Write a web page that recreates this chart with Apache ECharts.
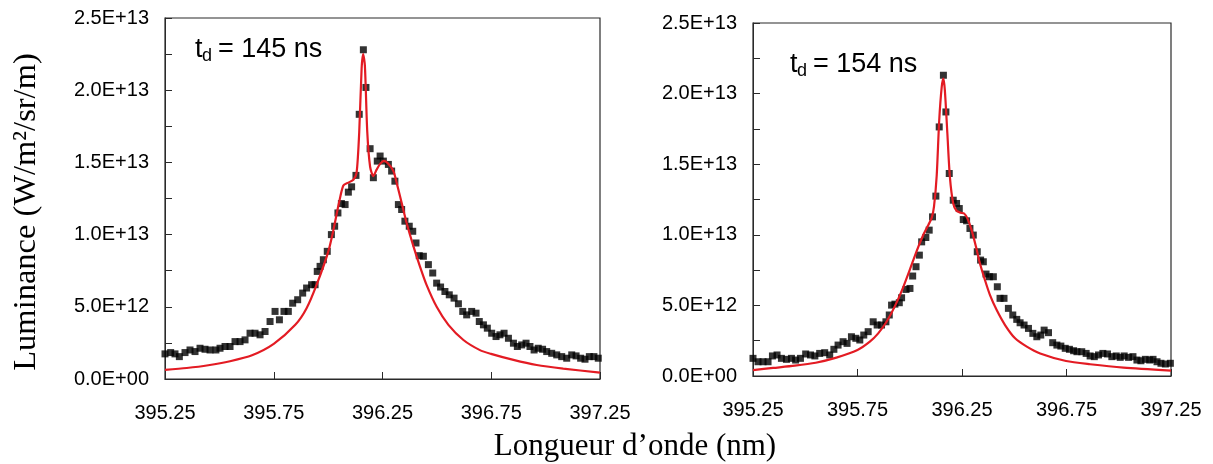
<!DOCTYPE html>
<html>
<head>
<meta charset="utf-8">
<script src="https://cdn.jsdelivr.net/npm/echarts@6/dist/echarts.min.js"></script>
<style>
html,body{margin:0;padding:0;background:#fff;}
#chart{width:1213px;height:464px;}
</style>
</head>
<body>
<div id="chart"></div>
<script>
// ---- Data (wavelength in nm, luminance in units of 1e12 W/m2/sr/m) ----
var xTicks = [395.25, 395.75, 396.25, 396.75, 397.25];
var yTicks = [0, 5e12, 1e13, 1.5e13, 2e13, 2.5e13];
var xTitle = 'Longueur d\u2019onde (nm)';
var yTitle = 'Luminance (W/m\u00B2/sr/m)';
var labelLeft = ['t', 'd', '= 145 ns'];
var labelRight = ['t', 'd', '= 154 ns'];

// Left panel (t_d = 145 ns) measured points
var leftMeasX = [395.250,395.276,395.296,395.316,395.342,395.365,395.388,395.411,395.434,395.457,395.484,395.503,395.526,395.549,395.572,395.595,395.618,395.641,395.664,395.687,395.710,395.733,395.756,395.776,395.797,395.817,395.837,395.860,395.883,395.901,395.924,395.940,395.950,395.963,395.978,395.996,396.015,396.030,396.045,396.061,396.078,396.093,396.108,396.128,396.143,396.162,396.174,396.193,396.208,396.226,396.239,396.254,396.277,396.292,396.307,396.323,396.338,396.353,396.373,396.389,396.404,396.419,396.438,396.461,396.481,396.499,396.517,396.537,396.557,396.579,396.599,396.619,396.637,396.660,396.680,396.695,396.714,396.732,396.752,396.772,396.790,396.809,396.829,396.852,396.870,396.890,396.910,396.928,396.947,396.966,396.986,397.005,397.028,397.051,397.074,397.097,397.120,397.140,397.161,397.181,397.201,397.222,397.242];
var leftMeasY = [1.74,1.83,1.74,1.55,1.83,2.01,1.90,2.13,2.06,2.01,2.01,2.13,2.25,2.25,2.59,2.59,2.71,3.17,3.17,3.06,3.29,3.98,4.68,4.10,4.68,4.68,5.25,5.49,5.95,6.30,6.53,6.53,7.45,7.80,8.26,8.84,10.0,10.58,11.50,12.15,12.08,12.94,13.31,14.10,18.33,22.80,20.19,15.95,13.94,15.09,15.44,15.09,14.86,14.40,13.70,12.08,11.74,10.93,10.58,10.23,9.42,8.54,8.50,7.92,7.34,6.64,6.37,6.06,5.83,5.60,5.21,4.68,4.44,4.68,4.56,3.98,3.75,3.52,3.17,2.94,3.06,3.17,2.82,2.48,2.25,2.36,2.48,2.25,2.01,2.13,2.06,1.90,1.78,1.67,1.55,1.44,1.67,1.60,1.44,1.37,1.55,1.55,1.44];
// Left panel fitted profile
var leftFitX = [395.250,395.350,395.449,395.549,395.650,395.750,395.849,395.901,395.950,396.001,396.024,396.050,396.070,396.093,396.116,396.131,396.143,396.154,396.161,396.169,396.180,396.193,396.208,396.223,396.239,396.257,396.277,396.300,396.315,396.338,396.361,396.392,396.422,396.453,396.499,396.553,396.622,396.698,396.749,396.852,396.959,397.081,397.250];
var leftFitY = [0.63,0.76,0.95,1.23,1.64,2.43,3.75,4.9,6.64,8.84,10.3,12.2,13.4,13.6,13.8,14.3,17.1,21.5,22.5,21.7,17.1,14.7,14.05,14.5,14.9,15.1,14.9,14.4,13.6,12.2,10.8,9.2,7.8,6.5,5.0,3.75,2.7,2.0,1.74,1.32,0.97,0.72,0.44];

// Right panel (t_d = 154 ns) measured points
var rightMeasX = [395.250,395.274,395.298,395.322,395.343,395.365,395.386,395.410,395.434,395.454,395.477,395.502,395.525,395.546,395.569,395.593,395.617,395.637,395.657,395.681,395.700,395.721,395.742,395.761,395.780,395.801,395.825,395.844,395.865,395.886,395.902,395.913,395.929,395.950,395.961,395.982,396.001,396.014,396.030,396.046,396.057,396.077,396.093,396.109,396.125,396.141,396.161,396.173,396.189,396.208,396.224,396.237,396.256,396.272,396.288,396.304,396.323,396.339,396.352,396.365,396.381,396.400,396.419,396.432,396.451,396.472,396.493,396.512,396.528,396.547,396.568,396.589,396.608,396.627,396.643,396.664,396.684,396.704,396.723,396.744,396.764,396.784,396.800,396.823,396.844,396.863,396.883,396.903,396.924,396.946,396.967,396.988,397.007,397.026,397.047,397.068,397.087,397.106,397.127,397.148,397.164,397.183,397.202,397.223,397.247];
var rightMeasY = [1.25,1.01,1.01,1.01,1.42,1.49,1.25,1.18,1.25,1.13,1.25,1.56,1.49,1.42,1.60,1.65,1.49,1.89,2.19,2.43,2.31,2.78,2.67,2.55,2.90,3.14,3.84,3.61,3.61,3.84,4.32,5.02,5.09,5.19,5.54,6.13,6.20,7.08,7.74,8.56,9.50,9.81,10.33,11.27,12.74,17.64,21.30,18.70,14.34,12.45,12.22,11.86,11.08,10.99,10.45,9.98,8.80,8.21,8.09,7.22,7.03,7.03,6.32,5.50,5.50,4.79,4.32,4.01,3.77,3.61,3.37,3.02,2.78,2.90,3.25,3.07,2.36,2.19,2.12,1.96,1.89,1.79,1.72,1.72,1.60,1.42,1.37,1.49,1.60,1.56,1.37,1.42,1.32,1.42,1.32,1.37,1.13,1.08,1.18,1.13,1.18,1.01,0.90,0.85,0.90];
// Right panel fitted profile
var rightFitX = [395.250,395.346,395.450,395.550,395.649,395.750,395.809,395.849,395.889,395.929,395.969,396.001,396.033,396.065,396.089,396.105,396.116,396.129,396.141,396.153,396.161,396.168,396.180,396.192,396.208,396.224,396.244,396.260,396.276,396.296,396.317,396.336,396.360,396.384,396.416,396.456,396.504,396.560,396.624,396.748,396.863,397.023,397.250];
var rightFitY = [0.42,0.57,0.73,0.94,1.30,1.84,2.43,3.02,3.84,4.95,6.3,7.55,8.85,10.0,10.7,11.2,12.0,14.2,18.11,20.47,21.06,20.23,17.17,14.10,12.22,11.70,11.56,11.51,11.16,10.33,9.15,7.97,6.79,5.73,4.67,3.61,2.67,2.08,1.60,1.06,0.83,0.59,0.38];

function pairs(xs, ys) {
  return xs.map(function (x, i) { return [x, ys[i] * 1e12]; });
}
function sciFmt(v) {
  var s = Number(v).toExponential(1).toUpperCase();
  return s.replace(/E([+-])(\d+)$/, function (m, sg, d) { return 'E' + sg + (d.length < 2 ? '0' + d : d); });
}

var AX = '#2a2a2a';
var sansFont = '"Liberation Sans", Arial, sans-serif';
var serifFont = '"Liberation Serif", "Times New Roman", serif';

function mkX(gi, margin) {
  return {
    type: 'value', gridIndex: gi, min: xTicks[0], max: xTicks[xTicks.length - 1],
    axisLine: { show: true, lineStyle: { color: AX, width: 1 } },
    axisTick: { show: true, inside: true, length: 7, customValues: xTicks, lineStyle: { color: AX } },
    axisLabel: { customValues: xTicks, margin: margin, fontFamily: sansFont, fontSize: 20, color: '#000',
      formatter: function (v) { return Number(v).toFixed(2); } },
    splitLine: { show: false }
  };
}
function mkY(gi) {
  return {
    type: 'value', gridIndex: gi, min: 0, max: 2.5e13, interval: 5e12,
    axisLine: { show: true, lineStyle: { color: AX, width: 1 } },
    axisTick: { show: true, inside: true, length: 7, lineStyle: { color: AX } },
    minorTick: { show: true, splitNumber: 2, length: 7, lineStyle: { color: AX } },
    axisLabel: { margin: 16, fontFamily: sansFont, fontSize: 20, color: '#000', formatter: sciFmt },
    splitLine: { show: false }
  };
}

function annot(parts, x, y) {
  return [
    { type: 'text', left: x, top: y - 15, style: { text: parts[0], font: '27px ' + sansFont, fill: '#000' } },
    { type: 'text', left: x + 7, top: y - 4, style: { text: parts[1], font: '18px ' + sansFont, fill: '#000' } },
    { type: 'text', left: x + 23, top: y - 15, style: { text: parts[2], font: '27px ' + sansFont, fill: '#000' } }
  ];
}

var chart = echarts.init(document.getElementById('chart'), null, { renderer: 'canvas' });
var option = {
  animation: false,
  backgroundColor: '#fff',
  grid: [
    { left: 165, top: 18, width: 435, height: 361, show: true, borderColor: AX, borderWidth: 1.2, backgroundColor: 'transparent' },
    { left: 753, top: 23, width: 418, height: 353, show: true, borderColor: AX, borderWidth: 1.2, backgroundColor: 'transparent' }
  ],
  xAxis: [mkX(0, 24), mkX(1, 24)],
  yAxis: [mkY(0), mkY(1)],
  series: [
    { type: 'scatter', xAxisIndex: 0, yAxisIndex: 0, data: pairs(leftMeasX, leftMeasY),
      symbol: 'rect', symbolSize: 7, itemStyle: { color: '#000' }, z: 2 },
    { type: 'line', xAxisIndex: 0, yAxisIndex: 0, data: pairs(leftFitX, leftFitY), showSymbol: false,
      smooth: 0.25, lineStyle: { color: '#e31b23', width: 2.2 }, z: 3 },
    { type: 'scatter', xAxisIndex: 1, yAxisIndex: 1, data: pairs(rightMeasX, rightMeasY),
      symbol: 'rect', symbolSize: 7, itemStyle: { color: '#000' }, z: 2 },
    { type: 'line', xAxisIndex: 1, yAxisIndex: 1, data: pairs(rightFitX, rightFitY), showSymbol: false,
      smooth: 0.25, lineStyle: { color: '#e31b23', width: 2.2 }, z: 3 }
  ],
  graphic: [].concat(
    annot(labelLeft, 195, 51),
    annot(labelRight, 790, 66),
    [
      { type: 'text', x: 26, y: 212, rotation: Math.PI / 2,
        style: { text: yTitle, font: '32.5px ' + serifFont, fill: '#000', align: 'center', verticalAlign: 'middle' } },
      { type: 'text', x: 635, y: 447,
        style: { text: xTitle, font: '31px ' + serifFont, fill: '#000', align: 'center', verticalAlign: 'middle' } }
    ]
  )
};
chart.setOption(option);
</script>
</body>
</html>
